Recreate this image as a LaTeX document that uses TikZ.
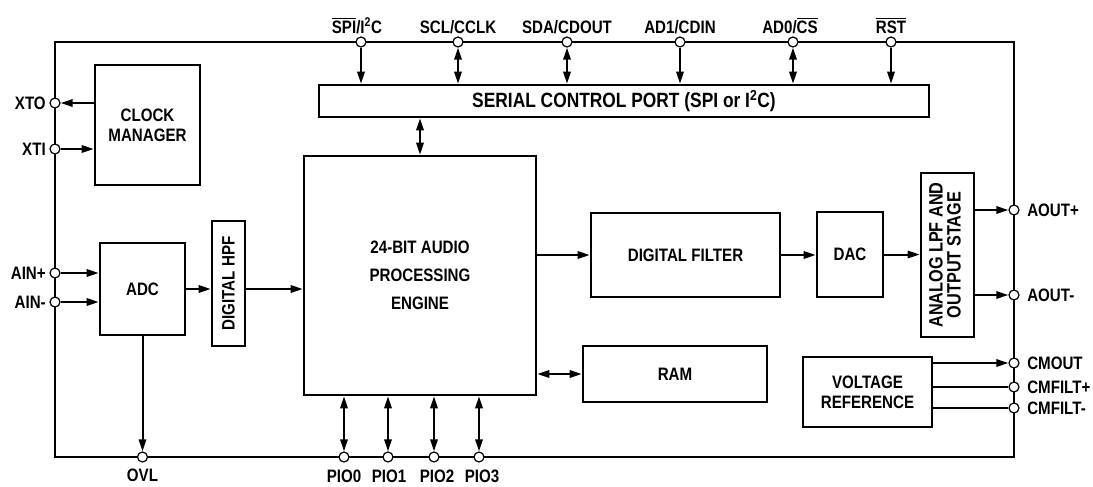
\documentclass[tikz,border=0pt]{standalone}
\usepackage{fontspec}
\setmainfont{Liberation Sans}[FakeStretch=0.84]
\usetikzlibrary{arrows.meta}
\newcommand{\ovl}[1]{$\overline{\hbox{#1}}$}
\begin{document}
\begin{tikzpicture}[x=0.75pt,y=-0.75pt,
  font=\fontsize{13.5}{15}\selectfont\bfseries,
  boxs/.style={draw,line width=1.9pt,inner sep=0pt,align=center},
  pinc/.style={draw,circle,fill=white,line width=0.9pt,minimum size=7.5pt,inner sep=0pt},
  lbl/.style={inner sep=0pt},
  arr/.style={line width=1.5pt,-{Triangle[length=9pt,width=5.5pt]}},
  darr/.style={line width=1.5pt,{Triangle[length=9pt,width=5.5pt]}-{Triangle[length=9pt,width=5.5pt]}},
  wire/.style={line width=1.5pt}]
\useasboundingbox (0,0) rectangle (1093,486);
% outer frame
\draw[line width=1.9pt] (55,42) rectangle (1014,457);
% blocks
\node[boxs,minimum width=78.75pt,minimum height=90pt] (clock) at (147.5,125) {\fontsize{13.5}{14.5}\selectfont CLOCK\\MANAGER};
\node[boxs,minimum width=457.5pt,minimum height=24pt] (serial) at (624,101) {\fontsize{15.5}{17}\selectfont SERIAL CONTROL PORT (SPI or I\textsuperscript{2}C)};
\node[boxs,minimum width=174pt,minimum height=179.25pt] (engine) at (420,275.5) {24-BIT AUDIO\\[6pt]PROCESSING\\[6pt]ENGINE};
\node[boxs,minimum width=63.75pt,minimum height=69pt] (adc) at (142.5,289) {ADC};
\node[boxs,minimum width=24.75pt,minimum height=93.75pt] (hpf) at (228.5,283.5) {\rotatebox{90}{DIGITAL HPF}};
\node[boxs,minimum width=141.75pt,minimum height=63pt] (filter) at (685.5,255) {DIGITAL FILTER};
\node[boxs,minimum width=49.5pt,minimum height=63.75pt] (dac) at (850,254.5) {DAC};
\node[boxs,minimum width=39.75pt,minimum height=123pt] (lpf) at (947.5,255) {\rotatebox{90}{\fontsize{14.5}{15}\selectfont\begin{tabular}{@{}c@{}}ANALOG LPF AND\\[-1.5pt]OUTPUT STAGE\end{tabular}}};
\node[boxs,minimum width=138pt,minimum height=42pt] (ram) at (675,374) {RAM};
\node[boxs,minimum width=96.75pt,minimum height=52.5pt] (vref) at (867.5,392) {\fontsize{13.5}{13.5}\selectfont VOLTAGE\\REFERENCE};
% top pins
\node[pinc] (pSPI) at (361,42) {};
\node[pinc] (pSCL) at (458,42) {};
\node[pinc] (pSDA) at (567,42) {};
\node[pinc] (pAD1) at (680,42) {};
\node[pinc] (pAD0) at (793,42) {};
\node[pinc] (pRST) at (891,42) {};
\node[lbl,anchor=base] (lSPI) at (357,33) {\ovl{SPI}/I\textsuperscript{2}C};
\node[lbl,anchor=base] (lSCL) at (458,33) {SCL/CCLK};
\node[lbl,anchor=base] (lSDA) at (567,33) {SDA/CDOUT};
\node[lbl,anchor=base] (lAD1) at (680,33) {AD1/CDIN};
\node[lbl,anchor=base] (lAD0) at (790,33) {AD0/\ovl{CS}};
\node[lbl,anchor=base] (lRST) at (891,33) {\ovl{RST}};
% left pins
\node[pinc] (pXTO) at (55,103) {};
\node[pinc] (pXTI) at (55,149) {};
\node[pinc] (pAINp) at (55,273) {};
\node[pinc] (pAINm) at (55,302) {};
\node[lbl,anchor=base east] (lXTO) at (46,109) {XTO};
\node[lbl,anchor=base east] (lXTI) at (46,155) {XTI};
\node[lbl,anchor=base east] (lAINp) at (46,279) {AIN+};
\node[lbl,anchor=base east] (lAINm) at (46,308) {AIN-};
% bottom pins
\node[pinc] (pOVL) at (142.5,457) {};
\node[pinc] (pPIO0) at (344,457) {};
\node[pinc] (pPIO1) at (388,457) {};
\node[pinc] (pPIO2) at (434,457) {};
\node[pinc] (pPIO3) at (479,457) {};
\node[lbl,anchor=base] (lOVL) at (142.5,481) {OVL};
\node[lbl,anchor=base] (lPIO0) at (344,482) {PIO0};
\node[lbl,anchor=base] (lPIO1) at (389,482) {PIO1};
\node[lbl,anchor=base] (lPIO2) at (437,482) {PIO2};
\node[lbl,anchor=base] (lPIO3) at (482,482) {PIO3};
% right pins
\node[pinc] (pAOUTp) at (1014,210) {};
\node[pinc] (pAOUTm) at (1014,295) {};
\node[pinc] (pCMOUT) at (1014,363) {};
\node[pinc] (pCMFp) at (1014,387) {};
\node[pinc] (pCMFm) at (1014,408) {};
\node[lbl,anchor=base west] (lAOUTp) at (1027,216) {AOUT+};
\node[lbl,anchor=base west] (lAOUTm) at (1027,301) {AOUT-};
\node[lbl,anchor=base west] (lCMOUT) at (1027,369) {CMOUT};
\node[lbl,anchor=base west] (lCMFp) at (1027,393) {CMFILT+};
\node[lbl,anchor=base west] (lCMFm) at (1027,414) {CMFILT-};
% connectors: top
\draw[arr] (pSPI) -- (pSPI |- serial.north);
\draw[darr] (pSCL) -- (pSCL |- serial.north);
\draw[darr] (pSDA) -- (pSDA |- serial.north);
\draw[arr] (pAD1) -- (pAD1 |- serial.north);
\draw[darr] (pAD0) -- (pAD0 |- serial.north);
\draw[arr] (pRST) -- (pRST |- serial.north);
\draw[darr] (serial.south -| engine.north) -- (engine.north);
% left
\draw[arr] (clock.west |- pXTO) -- (pXTO);
\draw[arr] (pXTI) -- (pXTI -| clock.west);
\draw[arr] (pAINp) -- (pAINp -| adc.west);
\draw[arr] (pAINm) -- (pAINm -| adc.west);
\draw[arr] (adc.east) -- (adc.east -| hpf.west);
\draw[arr] (hpf.east |- adc.east) -- (adc.east -| engine.west);
\draw[arr] (adc.south) -- (pOVL);
% bottom
\draw[darr] (pPIO0 |- engine.south) -- (pPIO0);
\draw[darr] (pPIO1 |- engine.south) -- (pPIO1);
\draw[darr] (pPIO2 |- engine.south) -- (pPIO2);
\draw[darr] (pPIO3 |- engine.south) -- (pPIO3);
% right
\draw[arr] (engine.east |- filter.west) -- (filter.west);
\draw[arr] (filter.east) -- (filter.east -| dac.west);
\draw[arr] (dac.east) -- (dac.east -| lpf.west);
\draw[arr] (lpf.east |- pAOUTp) -- (pAOUTp);
\draw[arr] (lpf.east |- pAOUTm) -- (pAOUTm);
\draw[darr] (engine.east |- ram.west) -- (ram.west);
\draw[arr] (vref.east |- pCMOUT) -- (pCMOUT);
\draw[wire] (vref.east |- pCMFp) -- (pCMFp);
\draw[wire] (vref.east |- pCMFm) -- (pCMFm);
\end{tikzpicture}
\end{document}
